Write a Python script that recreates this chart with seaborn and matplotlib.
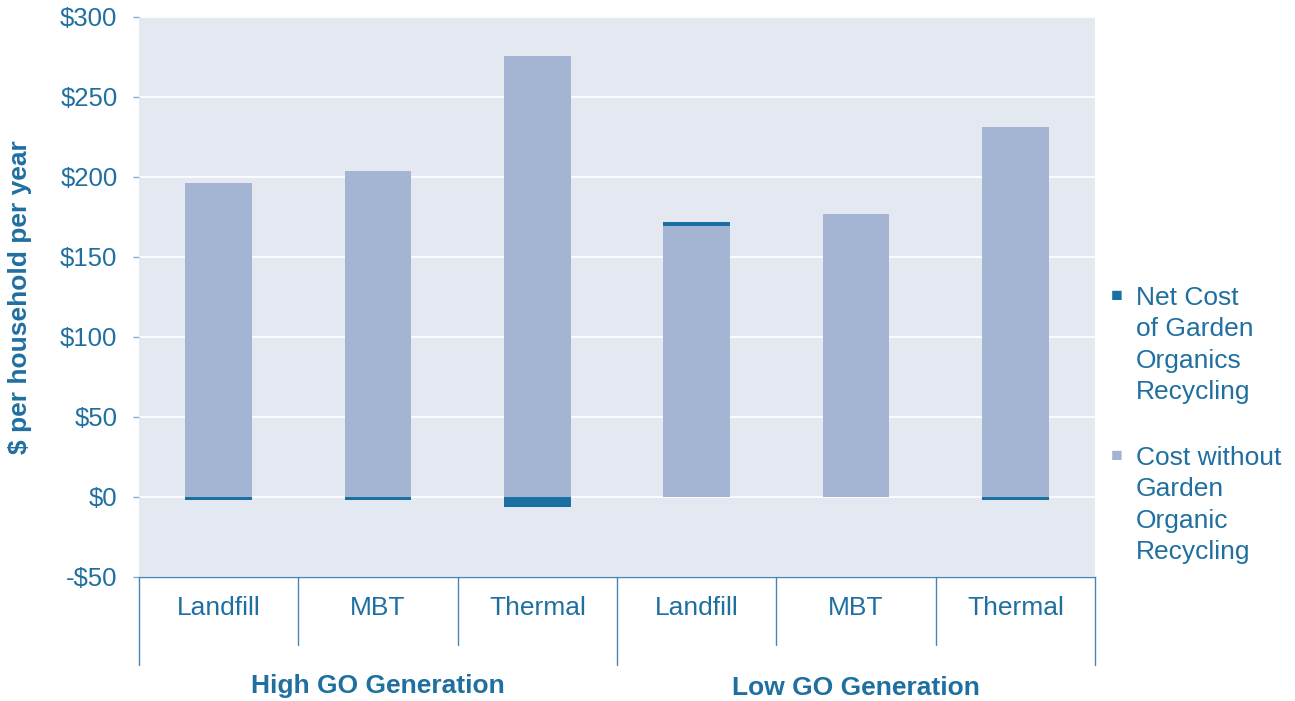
import numpy as np
import pandas as pd
import matplotlib
matplotlib.use("Agg")
import matplotlib.pyplot as plt
import seaborn as sns

# data
groups = ["High GO Generation", "Low GO Generation"]
options = ["Landfill", "MBT", "Thermal"]
cost_without_go = [196, 204, 275.5, 169.5, 177, 231]
net_cost_go = [-2, -2, -6, 2.5, 0, -2]

DARK = "#1a6fa3"
LIGHT = "#a3b5d3"
BG = "#e4e8f1"
TXT = "#1f6fa0"

sns.set_theme(style="darkgrid")
plt.rcParams["font.family"] = ["Liberation Sans", "DejaVu Sans"]

keys = [f"{g}|{o}" for g in groups for o in options]
light = np.array(cost_without_go)
dark = np.array(net_cost_go)
# positive net cost sits on top of the light bar, negative hangs below zero
dark_plot = np.where(dark > 0, light + dark, dark)

df = pd.DataFrame({"key": keys, "light": light, "dark": dark_plot})

fig = plt.figure(figsize=(12.95, 7.01), dpi=100)
ax = fig.add_axes([139 / 1295, 124 / 701, (1095 - 139) / 1295, 560 / 701])
ax.set_facecolor(BG)

sns.barplot(data=df, x="key", y="dark", order=keys, color=DARK, width=0.42,
            saturation=1, ax=ax, linewidth=0, zorder=2)
sns.barplot(data=df, x="key", y="light", order=keys, color=LIGHT, width=0.42,
            saturation=1, ax=ax, linewidth=0, zorder=3)

ax.set_xlim(-0.5, len(keys) - 0.5)
ax.set_ylim(-50, 300)
ax.set_yticks(np.arange(-50, 301, 50))
ax.set_yticklabels([f"-${-v}" if v < 0 else f"${v}" for v in range(-50, 301, 50)],
                   fontsize=18.5, color=TXT)
ax.grid(axis="y", color="white", linewidth=1.2)
ax.grid(axis="x", visible=False)
ax.tick_params(axis="y", length=4.5, width=1, color="#7fb0cf", pad=11, left=True)
ax.tick_params(axis="x", bottom=False, labelbottom=False)
ax.set_xlabel("")
ax.set_ylabel("$ per household per year", fontsize=19, fontweight="bold",
              color=TXT)
ax.yaxis.set_label_coords(-0.112, 0.5)
for s in ["top", "right", "left"]:
    ax.spines[s].set_visible(False)
ax.spines["bottom"].set_visible(True)
ax.spines["bottom"].set_color("#4a86b3")
ax.spines["bottom"].set_linewidth(1)

# category labels and separators below the axis
trans = ax.get_xaxis_transform()
for i, k in enumerate(keys):
    ax.text(i, -0.0555, k.split("|")[1], transform=trans, ha="center", va="center",
            fontsize=19, color=TXT)
for j in range(len(keys) + 1):
    bottom = -0.157 if j % 3 == 0 else -0.121
    ax.plot([j - 0.5, j - 0.5], [0, bottom], transform=trans, color="#4a86b3",
            linewidth=1, clip_on=False)
for gi, g in enumerate(groups):
    ax.text(gi * 3 + 1, -0.195 - gi * 0.004, g, transform=trans, ha="center",
            va="center", fontsize=19, fontweight="bold", color=TXT)

# legend
fig.text(1117 / 1295, 1 - 296 / 701, "\u25a0", fontsize=14, color=DARK,
         ha="center", va="center")
fig.text(1136 / 1295, 1 - 345 / 701, "Net Cost\nof Garden\nOrganics\nRecycling",
         fontsize=19, color=TXT, ha="left", va="center", linespacing=1.39)
fig.text(1117 / 1295, 1 - 457 / 701, "\u25a0", fontsize=14, color=LIGHT,
         ha="center", va="center")
fig.text(1136 / 1295, 1 - 505 / 701, "Cost without\nGarden\nOrganic\nRecycling",
         fontsize=19, color=TXT, ha="left", va="center", linespacing=1.39)

fig.savefig("out.png", dpi=100, facecolor="white")
